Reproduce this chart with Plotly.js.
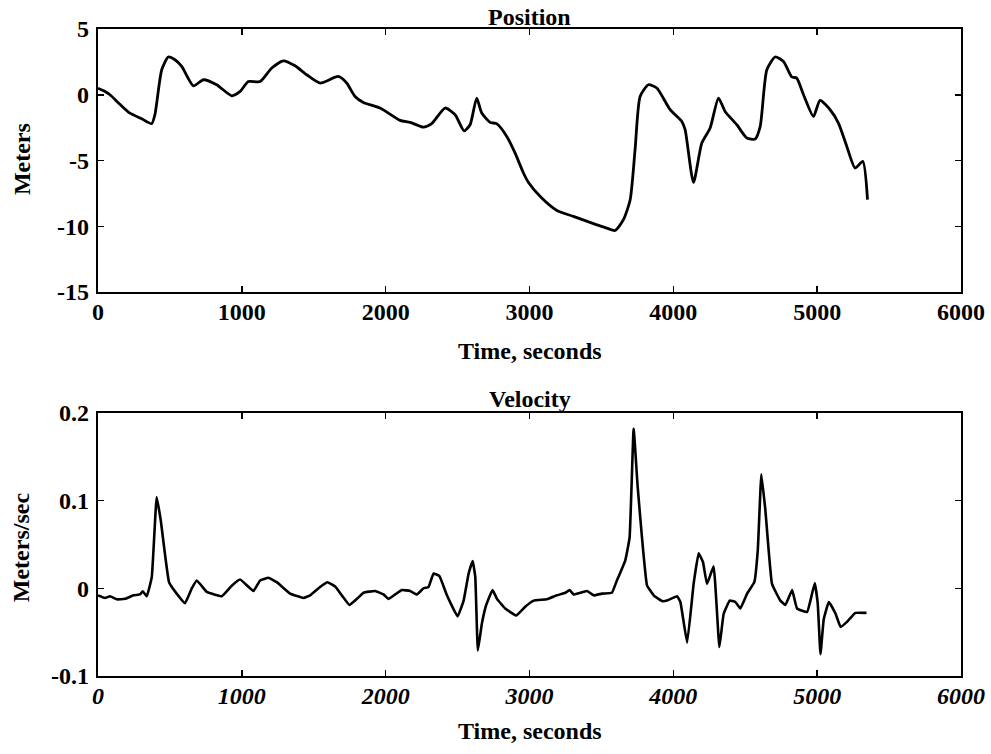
<!DOCTYPE html>
<html><head><meta charset="utf-8">
<script src="https://cdn.plot.ly/plotly-3.0.1.min.js"></script>
<style>html,body{margin:0;padding:0;background:#fff}#chart{width:991px;height:754px}</style>
</head><body><div id="chart"></div>
<script>
const posTime = [0,40,83,150,222,300,373,396,443,489,535,582,663,733,825,930,988,1045,1127,1208,1289,1370,1451,1544,1671,1729,1787,1845,1961,2100,2170,2262,2320,2413,2483,2545,2587,2633,2668,2726,2772,2842,2900,2958,2993,3085,3190,3305,3421,3537,3595,3653,3700,3734,3769,3827,3885,3978,4059,4082,4140,4198,4256,4314,4360,4441,4511,4569,4604,4650,4708,4766,4824,4858,4905,4974,5020,5090,5148,5206,5264,5317,5350];
const posMeters = [0.5,0.3,0.0,-0.7,-1.4,-1.8,-2.2,-1.5,1.9,2.87,2.66,2.15,0.68,1.14,0.76,-0.08,0.25,1.0,1.0,2.03,2.58,2.2,1.52,0.89,1.39,0.89,-0.13,-0.58,-1.01,-1.95,-2.1,-2.46,-2.2,-1.01,-1.52,-2.74,-2.28,-0.25,-1.39,-2.1,-2.2,-3.17,-4.44,-5.95,-6.67,-7.86,-8.8,-9.25,-9.71,-10.14,-10.32,-9.5,-7.98,-4.18,-0.13,0.76,0.51,-1.14,-2.03,-2.66,-6.67,-3.67,-2.53,-0.25,-1.27,-2.28,-3.29,-3.37,-2.41,1.9,2.87,2.53,1.35,1.27,0.0,-1.65,-0.43,-1.14,-2.15,-3.93,-5.57,-5.07,-7.98];
const velTime = [0,49,83,130,188,246,292,311,339,374,408,436,494,547,605,652,687,756,861,930,988,1081,1127,1185,1243,1336,1429,1475,1544,1595,1649,1695,1748,1800,1846,1927,1985,2019,2066,2113,2170,2217,2263,2298,2333,2374,2426,2500,2542,2577,2605,2623,2641,2669,2699,2743,2774,2831,2908,2970,3029,3121,3190,3249,3279,3307,3400,3446,3504,3573,3603,3666,3696,3724,3752,3782,3817,3863,3921,3956,4026,4049,4096,4141,4176,4206,4234,4280,4320,4350,4392,4431,4466,4513,4563,4587,4612,4640,4686,4744,4779,4826,4860,4930,4953,4983,5004,5023,5046,5081,5128,5163,5209,5266,5343];
const velMps = [-0.008,-0.011,-0.009,-0.0125,-0.012,-0.008,-0.007,-0.0034,-0.009,0.013,0.104,0.078,0.007,-0.006,-0.017,0.0,0.009,-0.004,-0.009,0.003,0.010,-0.003,0.009,0.012,0.007,-0.006,-0.011,-0.008,0.0015,0.007,0.002,-0.008,-0.019,-0.012,-0.005,-0.003,-0.007,-0.012,-0.007,-0.002,-0.003,-0.007,0.0,0.0015,0.017,0.014,-0.008,-0.032,-0.014,0.017,0.031,0.013,-0.071,-0.040,-0.019,-0.002,-0.012,-0.023,-0.031,-0.021,-0.014,-0.0125,-0.008,-0.005,-0.002,-0.007,-0.003,-0.008,-0.006,-0.005,0.007,0.032,0.058,0.182,0.116,0.058,0.0034,-0.008,-0.0145,-0.014,-0.009,-0.0156,-0.062,0.005,0.040,0.030,0.005,0.025,-0.067,-0.029,-0.014,-0.0156,-0.023,-0.006,0.007,0.043,0.130,0.089,0.005,-0.014,-0.019,-0.002,-0.023,-0.027,-0.014,0.006,-0.0175,-0.075,-0.035,-0.0156,-0.029,-0.044,-0.038,-0.028,-0.028];
const xTicks = [0,1000,2000,3000,4000,5000,6000];
const posTicks = [5,0,-5,-10,-15];
const posTickText = ['5','0','-5','-10','-15'];
const velTicks = [0.2,0.1,0,-0.1];
const velTickText = ['0.2','0.1','0','-0.1'];

const FAM = '"Liberation Serif", "Times New Roman", Times, serif';
const tickFont = {family:FAM, color:'#000', size:24, weight:700};
const tickFontIt = {family:FAM, color:'#000', size:24, weight:700, style:'italic'};
const titleFont = {family:FAM, color:'#000', size:24, weight:700};

function axCommon(){
  return {ticks:'inside', ticklen:6, tickwidth:1.5, tickcolor:'#000',
    showline:true, linecolor:'#000', linewidth:2.2, mirror:'ticks', showgrid:false, zeroline:false};
}
const layout = {
  width:991, height:754, margin:{l:98, r:30, t:29, b:78},
  paper_bgcolor:'#fff', plot_bgcolor:'#fff', showlegend:false,
  xaxis: Object.assign(axCommon(), {range:[0,6000], tickvals:xTicks, tickfont:tickFont, anchor:'y', ticklabelstandoff:-3}),
  yaxis: Object.assign(axCommon(), {domain:[0.5935,1], range:[-15,5], tickvals:posTicks, ticktext:posTickText, tickfont:tickFont, ticklabelstandoff:2}),
  xaxis2: Object.assign(axCommon(), {range:[0,6000], tickvals:xTicks, tickfont:tickFontIt, anchor:'y2', ticklabelstandoff:-3}),
  yaxis2: Object.assign(axCommon(), {domain:[0,0.4065], range:[-0.1,0.2], tickvals:velTicks, ticktext:velTickText, tickfont:tickFont, anchor:'x2', ticklabelstandoff:2}),
  annotations:[
    {text:'Position', xref:'x', yref:'paper', x:3000, y:1.0185, yanchor:'middle', xanchor:'center', showarrow:false, font:titleFont},
    {text:'Time, seconds', xref:'x', yref:'paper', x:3000, y:0.5023, yanchor:'middle', xanchor:'center', showarrow:false, font:titleFont},
    {text:'Velocity', xref:'x2', yref:'paper', x:3000, y:0.428, yanchor:'middle', xanchor:'center', showarrow:false, font:titleFont},
    {text:'Time, seconds', xref:'x2', yref:'paper', x:3000, y:-0.085, yanchor:'middle', xanchor:'center', showarrow:false, font:titleFont},
    {text:'Meters', xref:'paper', yref:'paper', x:-0.088, y:0.799, textangle:-90, xanchor:'center', yanchor:'middle', showarrow:false, font:titleFont},
    {text:'Meters/sec', xref:'paper', yref:'paper', x:-0.089, y:0.1994, textangle:-90, xanchor:'center', yanchor:'middle', showarrow:false, font:titleFont}
  ]
};
const data = [
  {x:posTime, y:posMeters, type:'scatter', mode:'lines', line:{color:'#000', width:2.8, shape:'spline', smoothing:0.6}, xaxis:'x', yaxis:'y'},
  {x:velTime, y:velMps, type:'scatter', mode:'lines', line:{color:'#000', width:2.6, shape:'spline', smoothing:0.3}, xaxis:'x2', yaxis:'y2'}
];
Plotly.newPlot('chart', data, layout, {staticPlot:true});
</script></body></html>
